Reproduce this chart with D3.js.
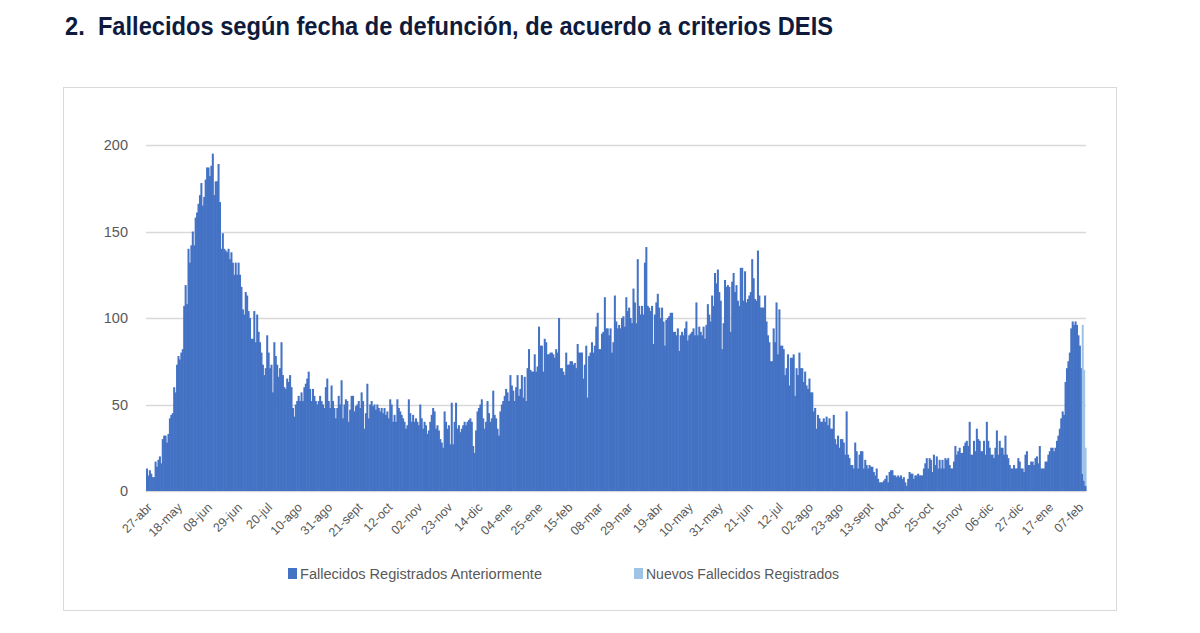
<!DOCTYPE html>
<html>
<head>
<meta charset="utf-8">
<script src="https://cdn.jsdelivr.net/npm/d3@7"></script>
<style>
  html, body { margin: 0; padding: 0; background: #ffffff; }
  svg { display: block; }
</style>
</head>
<body>
<svg id="chart" width="1200" height="633"></svg>
<script>
// ---------------- DATA ----------------
const titleText = "2.  Fallecidos según fecha de defunción, de acuerdo a criterios DEIS";
const startDate = "2020-04-27";           // first day of the daily series
const tickStepDays = 21;
const tickLabels = ["27-abr","18-may","08-jun","29-jun","20-jul","10-ago","31-ago","21-sept","12-oct","02-nov","23-nov","14-dic","04-ene","25-ene","15-feb","08-mar","29-mar","19-abr","10-may","31-may","21-jun","12-jul","02-ago","23-ago","13-sept","04-oct","25-oct","15-nov","06-dic","27-dic","17-ene","07-feb"];
const yTicks = [0, 50, 100, 150, 200];
const seriesNames = ["Fallecidos Registrados Anteriormente", "Nuevos Fallecidos Registrados"];

// Fallecidos Registrados Anteriormente (daily, from 27-abr-2020)
const fallecidosAnteriores = [
  13, 9, 12, 10, 8, 8, 17,
  14, 18, 20, 16, 30, 32, 32,
  28, 33, 42, 44, 45, 60, 57,
  73, 78, 76, 80, 82, 107, 119,
  108, 140, 132, 142, 150, 142, 158,
  161, 166, 171, 178, 165, 170, 180,
  187, 187, 182, 188, 195, 171, 179,
  179, 189, 167, 140, 149, 140, 139,
  138, 140, 134, 138, 132, 125, 132,
  125, 132, 125, 118, 105, 102, 115,
  113, 104, 100, 88, 88, 104, 86,
  102, 92, 86, 80, 73, 67, 71,
  90, 80, 71, 73, 57, 86, 78,
  73, 66, 71, 86, 67, 60, 59,
  65, 63, 67, 60, 48, 43, 50,
  52, 55, 52, 57, 52, 60, 62,
  65, 69, 59, 52, 59, 55, 52,
  50, 52, 55, 52, 50, 48, 60,
  65, 52, 48,
  61, 52, 48, 42, 48, 55, 50,
  64, 42, 50, 53, 52, 40, 47,
  55, 55, 46, 49, 50, 52, 48,
  57, 52, 36, 45, 62, 42, 50,
  52, 49, 50, 47, 50, 48, 46,
  48, 45, 48, 44, 46, 42, 53,
  50, 40, 44, 40, 53, 48, 46,
  44, 42, 40, 36, 38, 53, 45,
  40, 44, 40, 42, 40, 38, 50,
  42, 36, 40, 38, 33, 35, 40,
  44, 48, 46, 36, 38, 35, 30,
  28, 25, 46, 40, 36, 38, 27,
  51, 27, 40, 51, 36, 38, 34,
  36, 38, 40, 38, 40, 41, 42,
  40, 26, 22, 35, 46, 48, 50,
  53, 42, 36, 40, 52, 45, 40,
  42, 58, 44, 42, 36, 32, 46,
  50, 52, 55, 59, 57, 52, 67,
  61, 58, 52, 60, 67, 55, 59,
  67, 54, 66, 52, 71, 82, 70,
  69, 69, 79, 69, 72, 95, 84,
  84, 69, 88, 86, 79, 79, 80,
  80, 79, 77, 82, 80, 100, 71,
  71, 69, 67, 80, 73, 73, 75,
  75, 73, 74, 71, 85, 80, 80,
  80, 65, 73, 84, 54, 78, 80,
  86, 80, 84, 95, 103, 82, 82,
  91, 92, 112, 94, 94, 90, 94,
  80, 86, 113, 98, 94, 96, 94,
  100, 101, 95, 112, 104, 106, 100,
  97, 117, 109, 97, 134, 107, 102,
  107, 102, 132, 141, 107, 106, 104,
  107, 85, 102, 109, 114, 106, 100,
  106, 98, 84, 99, 100, 101, 103,
  103, 92, 92, 90, 94, 81, 90,
  92, 90, 94, 98, 87, 90, 91,
  92, 94, 90, 109, 90, 95, 92,
  90, 95, 88, 96, 108, 102, 98,
  113, 107, 126, 120, 128, 115, 110,
  82, 97, 122, 118, 119, 118, 92,
  121, 126, 115, 119, 110, 107, 129,
  129, 110, 127, 109, 111, 113, 115,
  134, 123, 111, 110, 139, 113, 106,
  106, 106, 113, 98, 90, 86, 75,
  75, 94, 86, 109, 79, 105, 84,
  84, 82, 67, 71, 79, 61, 77,
  77, 79, 55, 71, 67, 80, 71,
  71, 63, 69, 61, 59, 65, 57,
  57, 46, 48, 36, 44, 42, 40,
  40, 42, 40, 43, 38, 42, 36,
  36, 44, 30, 27, 32, 25, 30,
  30, 28, 21, 46, 21, 19, 15,
  15, 13, 28, 23, 13, 21, 23,
  23, 13, 18, 15, 13, 15, 14,
  14, 11, 9, 13, 7, 5, 5,
  5, 6, 7, 9, 5, 11, 12,
  12, 9, 9, 8, 9, 8, 9,
  7, 8, 5, 3, 7, 11, 10,
  10, 7, 9, 9, 10, 9, 9,
  9, 13, 16, 19, 13, 19, 18,
  11, 21, 15, 20, 13, 18, 13,
  18, 13, 19, 18, 19, 15, 13,
  13, 17, 26, 21, 23, 25, 22,
  22, 26, 28, 29, 26, 40, 21,
  21, 29, 23, 36, 30, 29, 23,
  23, 29, 21, 40, 29, 25, 21,
  21, 19, 25, 35, 21, 29, 25,
  25, 21, 32, 21, 19, 15, 13,
  13, 15, 13, 13, 19, 17, 13,
  13, 11, 21, 23, 15, 15, 17,
  17, 15, 19, 20, 16, 26, 13,
  13, 13, 17, 17, 21, 23, 25,
  25, 23, 25, 29, 32, 36, 42,
  46, 44, 63, 71, 75, 80, 94,
  98, 96, 98, 96, 90, 84, 71,
  10, 6, 3
];

// Nuevos Fallecidos Registrados (stacked on top; only the last days)
const nuevosFechas = ["2022-02-10", "2022-02-11", "2022-02-12"];
const nuevosValores = [86, 64, 22];

const colorAnteriores = "#4472C4";
const colorNuevos = "#9DC3E6";

// ---------------- BUILD ----------------
const parse = d3.timeParse("%Y-%m-%d");
const fmt = d3.timeFormat("%Y-%m-%d");
const day0 = parse(startDate);
const days = fallecidosAnteriores.map((v, i) => fmt(d3.timeDay.offset(day0, i)));
const nuevosMap = new Map(nuevosFechas.map((d, i) => [d, nuevosValores[i]]));
const rows = days.map((d, i) => ({
  fecha: d,
  anteriores: fallecidosAnteriores[i],
  nuevos: nuevosMap.get(d) || 0
}));

const stack = d3.stack().keys(["anteriores", "nuevos"]);
const layers = stack(rows);

const svg = d3.select("#chart");
const plot = { left: 146, right: 1086, top: 145, bottom: 491 };

const x = d3.scaleBand().domain(days).range([plot.left, plot.right]).padding(0);
const y = d3.scaleLinear().domain([0, 200]).range([plot.bottom, plot.top]);

svg.append("rect").attr("width", 1200).attr("height", 633).attr("fill", "#ffffff");

// Title
svg.append("text")
  .attr("x", 65).attr("y", 35)
  .attr("xml:space", "preserve")
  .style("white-space", "pre")
  .attr("font-family", "'Liberation Sans', Arial, sans-serif")
  .attr("font-weight", "bold")
  .attr("font-size", 26)
  .attr("fill", "#0f1b3d")
  .attr("textLength", 768)
  .attr("lengthAdjust", "spacingAndGlyphs")
  .text(titleText);

// Chart frame
svg.append("rect")
  .attr("x", 63.5).attr("y", 87.5).attr("width", 1053).attr("height", 523)
  .attr("fill", "none").attr("stroke", "#d9d9d9").attr("stroke-width", 1);

// Gridlines
svg.append("g").selectAll("line").data(yTicks).join("line")
  .attr("x1", plot.left).attr("x2", plot.right)
  .attr("y1", d => Math.round(y(d)) + 0.5).attr("y2", d => Math.round(y(d)) + 0.5)
  .attr("stroke", "#d9d9d9").attr("stroke-width", 1.5);

// Y axis labels
const yAxis = d3.axisLeft(y).tickValues(yTicks).tickSize(0).tickPadding(0);
const gy = svg.append("g").attr("transform", `translate(${plot.left - 18},0)`).call(yAxis);
gy.select(".domain").remove();
gy.selectAll("text")
  .attr("font-family", "'Liberation Sans', Arial, sans-serif")
  .attr("font-size", 14.5)
  .attr("fill", "#595959");

// Bars
const colors = [colorAnteriores, colorNuevos];
svg.append("g").selectAll("g").data(layers).join("g")
  .attr("fill", (d, i) => colors[i])
  .selectAll("rect").data(d => d.filter(p => p[1] - p[0] > 0)).join("rect")
  .attr("x", d => x(d.data.fecha))
  .attr("width", x.bandwidth() + 0.6)
  .attr("y", d => y(d[1]))
  .attr("height", d => y(d[0]) - y(d[1]));

// X axis labels (every 21 days)
const tickDays = tickLabels.map((lab, i) => days[i * tickStepDays]);
const labelByDay = new Map(tickDays.map((d, i) => [d, tickLabels[i]]));
const xAxis = d3.axisBottom(x).tickValues(tickDays).tickFormat(d => labelByDay.get(d)).tickSize(0).tickPadding(0);
const gx = svg.append("g").attr("transform", `translate(0,${plot.bottom})`).call(xAxis);
gx.select(".domain").attr("stroke", "#d9d9d9");
gx.selectAll("text")
  .attr("font-family", "'Liberation Sans', Arial, sans-serif")
  .attr("font-size", 12.5)
  .attr("fill", "#595959")
  .attr("text-anchor", "end")
  .attr("dy", "0.35em")
  .attr("transform", "translate(3,14) rotate(-45)");

// Legend
const legend = [
  { name: seriesNames[0], color: colorAnteriores, x: 288, len: 242 },
  { name: seriesNames[1], color: colorNuevos, x: 634, len: 193 }
];
const lg = svg.append("g").selectAll("g").data(legend).join("g");
lg.append("rect").attr("x", d => d.x).attr("y", 568).attr("width", 9).attr("height", 11).attr("fill", d => d.color);
lg.append("text")
  .attr("x", d => d.x + 12).attr("y", 579)
  .attr("font-family", "'Liberation Sans', Arial, sans-serif")
  .attr("font-size", 14)
  .attr("fill", "#595959")
  .attr("textLength", d => d.len)
  .attr("lengthAdjust", "spacingAndGlyphs")
  .text(d => d.name);
</script>
</body>
</html>
